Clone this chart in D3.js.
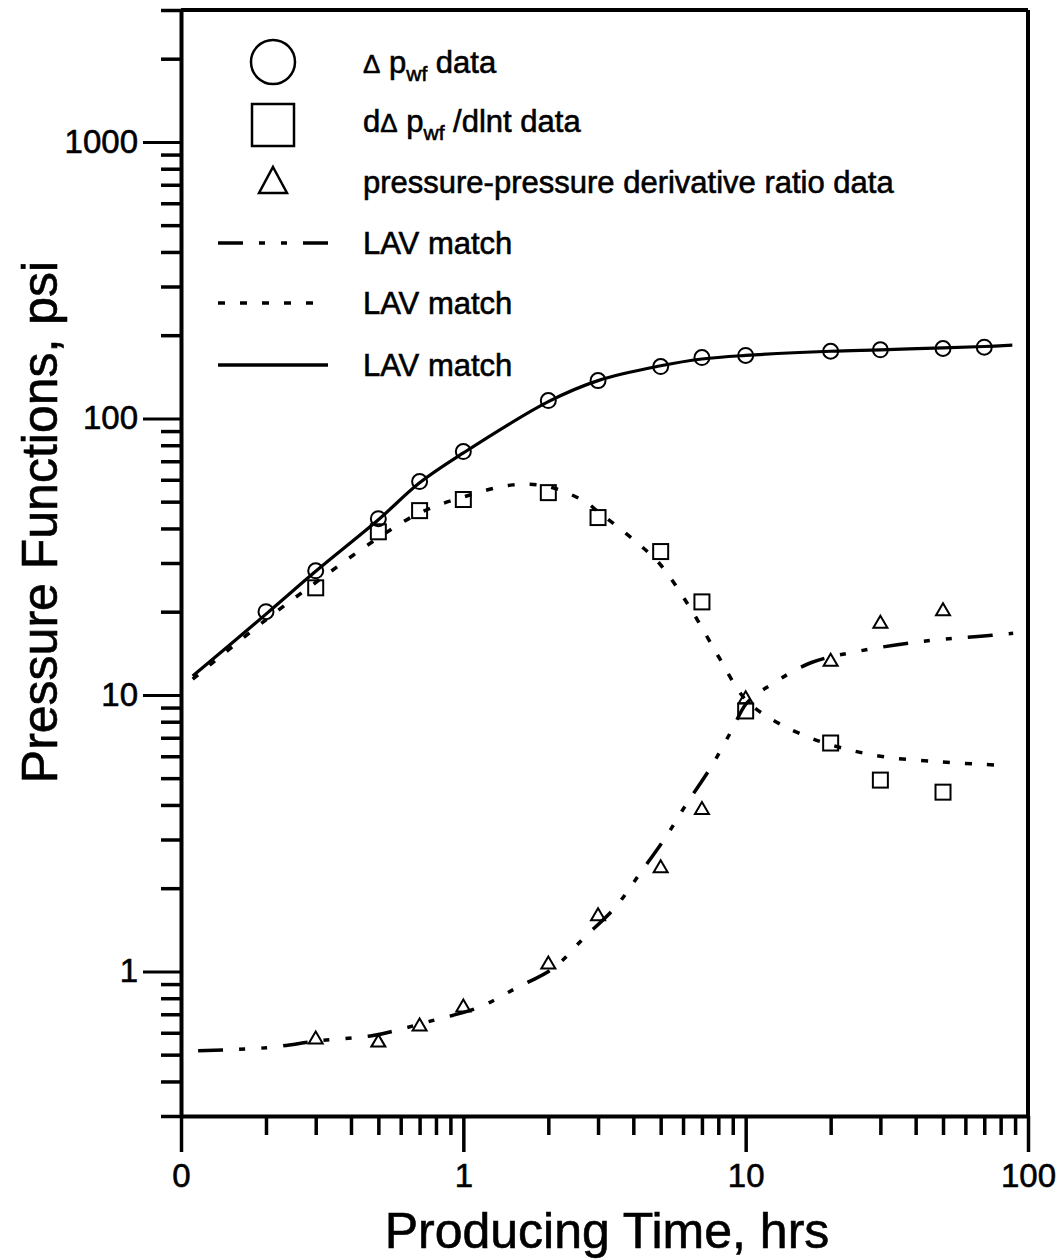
<!DOCTYPE html>
<html>
<head>
<meta charset="utf-8">
<script src="https://cdn.jsdelivr.net/npm/d3@7"></script>
<style>
  html, body { margin: 0; padding: 0; background: #fff; }
  svg { display: block; font-family: "Liberation Sans", Arial, sans-serif; }
  text { fill: #000; stroke: #000; stroke-width: 0.6px; }
</style>
</head>
<body>
<svg id="chart" width="1060" height="1259"></svg>
<script>
// ---------- data ----------
const timeP = [0.2, 0.3, 0.5, 0.7, 1, 2, 3, 5, 7, 10, 20, 30, 50, 70];
const dpData = [20, 28.1, 43.4, 59.1, 75.9, 116, 137, 154, 166, 169, 175, 177, 179, 181];

const timeD = [0.3, 0.5, 0.7, 1, 2, 3, 5, 7, 10, 20, 30, 50];
const derivData = [24.4, 38.9, 46.4, 50.9, 53.9, 43.8, 33.0, 21.7, 8.75, 6.7, 4.92, 4.45];
const ratioData = [0.577, 0.562, 0.643, 0.753, 1.078, 1.61, 2.40, 3.9, 9.8, 13.4, 18.4, 20.4];

// LAV match curves
const solidT = [0.11, 0.2, 0.3, 0.5, 0.7, 1, 2, 3, 5, 7, 10, 20, 30, 50, 70, 88];
const solidV = [11.7, 19.6, 28, 43, 58.5, 75, 115, 137, 155, 164, 169, 175, 177, 180, 182, 184];

const dottedT = [0.11, 0.2, 0.3, 0.5, 0.7, 1, 1.5, 2, 2.7, 3, 4, 5, 6.2, 7, 8, 10, 12.3, 15.3, 20, 30, 50, 79];
const dottedV = [11.4, 18.7, 25.5, 37, 45.5, 52, 57.5, 56.7, 50, 46, 36.5, 29.5, 21.5, 17.5, 13.8, 9.6, 8.2, 7.3, 6.6, 6.0, 5.72, 5.57];

const dashT = [0.115, 0.202, 0.311, 0.479, 0.574, 0.782, 1.13, 1.53, 2.09, 2.67, 3.46, 4.22, 5.21, 6.13, 7.54, 8.94, 10.1, 12.5, 17.1, 24.3, 41.8, 68, 88.6];
const dashV = [0.517, 0.530, 0.562, 0.586, 0.611, 0.665, 0.740, 0.868, 1.03, 1.32, 1.71, 2.26, 3.06, 3.99, 5.49, 7.47, 9.36, 11.0, 13.1, 14.3, 15.6, 16.3, 16.7];

const xMajor = [0.1, 1, 10, 100];
const xMajorLabels = ["0", "1", "10", "100"];
const yMajor = [1, 10, 100, 1000];
const yMajorLabels = ["1", "10", "100", "1000"];

const legendLabels = ["LAV match", "LAV match", "LAV match"];
const xTitle = "Producing Time, hrs";
const yTitle = "Pressure Functions, psi";

// ---------- chart ----------
const svg = d3.select("#chart");
const x = d3.scaleLog().domain([0.1, 100]).range([181, 1028]);
const y = d3.scaleLog().domain([0.3, 3000]).range([1116, 10]);

function minorTicks(lo, hi) {
  const out = [];
  for (let e = Math.floor(Math.log10(lo)); e < Math.ceil(Math.log10(hi)); e++) {
    for (let k = 2; k <= 9; k++) {
      const v = k * Math.pow(10, e);
      if (v >= lo - 1e-9 && v <= hi + 1e-9) out.push(v);
    }
  }
  return out;
}
const xMinor = minorTicks(0.1, 100);
const yMinor = minorTicks(0.3, 3000);

// frame top and right
svg.append("line").attr("x1", x(0.1)).attr("x2", x(100)).attr("y1", y(3000)).attr("y2", y(3000))
  .attr("stroke", "#000").attr("stroke-width", 4);
svg.append("line").attr("x1", x(100)).attr("x2", x(100)).attr("y1", y(3000)).attr("y2", y(0.3))
  .attr("stroke", "#000").attr("stroke-width", 4);

// minor axes
svg.append("g").attr("transform", `translate(${x(0.1)},0)`)
  .call(d3.axisLeft(y).tickValues(yMinor).tickSize(20).tickSizeOuter(0).tickFormat(""))
  .call(g => g.selectAll(".tick line").attr("stroke-width", 3.5))
  .call(g => g.select(".domain").remove());
svg.append("g").attr("transform", `translate(0,${y(0.3)})`)
  .call(d3.axisBottom(x).tickValues(xMinor).tickSize(19).tickSizeOuter(0).tickFormat(""))
  .call(g => g.selectAll(".tick line").attr("stroke-width", 3.5))
  .call(g => g.select(".domain").remove());

// major axes
svg.append("g").attr("transform", `translate(${x(0.1)},0)`)
  .call(d3.axisLeft(y).tickValues(yMajor).tickSize(38).tickSizeOuter(0).tickPadding(5)
    .tickFormat((d, i) => yMajorLabels[i]))
  .call(g => g.select(".domain").attr("stroke-width", 4))
  .call(g => g.selectAll(".tick line").attr("stroke-width", 3))
  .call(g => g.selectAll(".tick text").attr("font-size", 33).attr("fill", "#000")
    .attr("font-family", "Liberation Sans, Arial, sans-serif"));
svg.append("g").attr("transform", `translate(0,${y(0.3)})`)
  .call(d3.axisBottom(x).tickValues(xMajor).tickSize(36).tickSizeOuter(0).tickPadding(12)
    .tickFormat((d, i) => xMajorLabels[i]))
  .call(g => g.select(".domain").attr("stroke-width", 4))
  .call(g => g.selectAll(".tick line").attr("stroke-width", 3.5))
  .call(g => g.selectAll(".tick text").attr("font-size", 33).attr("fill", "#000")
    .attr("font-family", "Liberation Sans, Arial, sans-serif"));

// axis titles
svg.append("text").attr("x", 607).attr("y", 1248).attr("text-anchor", "middle")
  .attr("font-size", 50).text(xTitle);
svg.append("text").attr("transform", "translate(57,522) rotate(-90)").attr("text-anchor", "middle")
  .attr("font-size", 50).text(yTitle);

// curves
const line = d3.line().x(d => x(d[0])).y(d => y(d[1])).curve(d3.curveCatmullRom.alpha(0.5));
const dashPattern = "25,16,6,16,6,16";
const dotPattern = "7,15";

svg.append("path").datum(d3.zip(solidT, solidV)).attr("d", line)
  .attr("fill", "none").attr("stroke", "#000").attr("stroke-width", 3.2);
svg.append("path").datum(d3.zip(dottedT, dottedV)).attr("d", line)
  .attr("fill", "none").attr("stroke", "#000").attr("stroke-width", 3.5).attr("stroke-dasharray", dotPattern);
svg.append("path").datum(d3.zip(dashT, dashV)).attr("d", line)
  .attr("fill", "none").attr("stroke", "#000").attr("stroke-width", 3.5).attr("stroke-dasharray", dashPattern);

// markers
svg.append("g").selectAll("circle").data(d3.zip(timeP, dpData)).join("circle")
  .attr("cx", d => x(d[0])).attr("cy", d => y(d[1])).attr("r", 7.5)
  .attr("fill", "none").attr("stroke", "#000").attr("stroke-width", 2);
const sq = 15;
svg.append("g").selectAll("rect").data(d3.zip(timeD, derivData)).join("rect")
  .attr("x", d => x(d[0]) - sq / 2).attr("y", d => y(d[1]) - sq / 2).attr("width", sq).attr("height", sq)
  .attr("fill", "none").attr("stroke", "#000").attr("stroke-width", 2);
const tri = (w, h) => `M0,${-h / 2}L${w / 2},${h / 2}L${-w / 2},${h / 2}Z`;
svg.append("g").selectAll("path").data(d3.zip(timeD, ratioData)).join("path")
  .attr("transform", d => `translate(${x(d[0])},${y(d[1])})`).attr("d", tri(14, 12))
  .attr("fill", "none").attr("stroke", "#000").attr("stroke-width", 2);

// legend
const lg = svg.append("g");
const symX = 273, textX = 363;
lg.append("circle").attr("cx", symX).attr("cy", 62).attr("r", 22)
  .attr("fill", "none").attr("stroke", "#000").attr("stroke-width", 2.5);
lg.append("rect").attr("x", symX - 21).attr("y", 104).attr("width", 42).attr("height", 42)
  .attr("fill", "none").attr("stroke", "#000").attr("stroke-width", 2.5);
lg.append("path").attr("transform", `translate(${symX},180)`).attr("d", tri(28, 26))
  .attr("fill", "none").attr("stroke", "#000").attr("stroke-width", 2.5);

const t1 = lg.append("text").attr("x", textX).attr("y", 73).attr("font-size", 31);
t1.append("tspan").attr("font-size", 26).text("Δ");
t1.append("tspan").text(" p");
t1.append("tspan").attr("font-size", 21).attr("dy", 8).text("wf");
t1.append("tspan").attr("dy", -8).text(" data");

const t2 = lg.append("text").attr("x", textX).attr("y", 132).attr("font-size", 31);
t2.append("tspan").text("d");
t2.append("tspan").attr("font-size", 26).text("Δ");
t2.append("tspan").text(" p");
t2.append("tspan").attr("font-size", 21).attr("dy", 8).text("wf");
t2.append("tspan").attr("dy", -8).text(" /dlnt data");

lg.append("text").attr("x", textX).attr("y", 193).attr("font-size", 31)
  .text("pressure-pressure derivative ratio data");

const lineRows = [
  {y: 243, dash: dashPattern},
  {y: 303, dash: dotPattern},
  {y: 365, dash: null}
];
lineRows.forEach((r, i) => {
  const l = lg.append("line").attr("x1", 218).attr("x2", 328).attr("y1", r.y).attr("y2", r.y)
    .attr("stroke", "#000").attr("stroke-width", 3.5);
  if (r.dash) l.attr("stroke-dasharray", r.dash);
  lg.append("text").attr("x", textX).attr("y", r.y + 11).attr("font-size", 31).text(legendLabels[i]);
});
</script>
</body>
</html>
